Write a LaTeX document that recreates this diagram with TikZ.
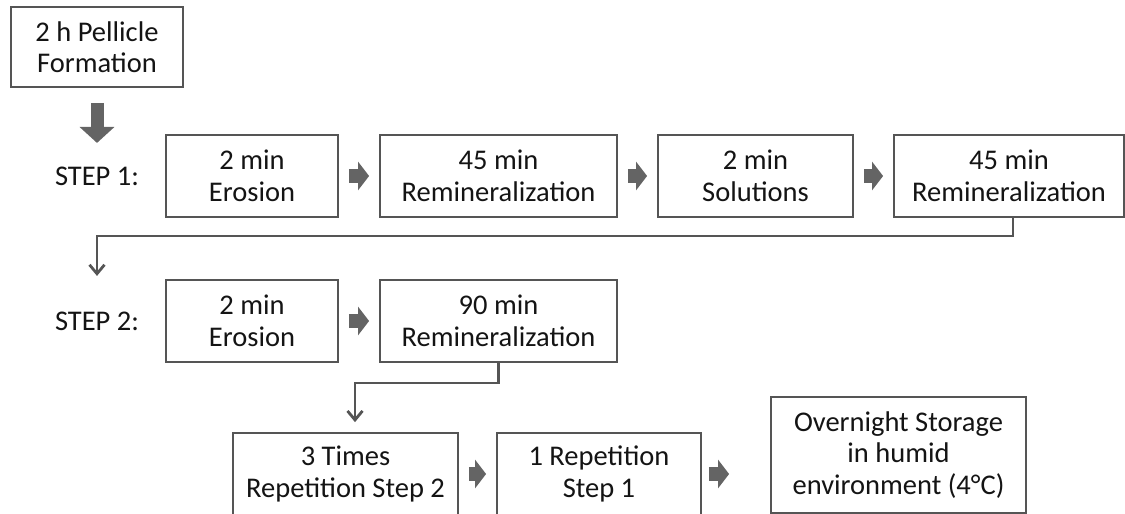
\documentclass[tikz,border=0pt]{standalone}
\usepackage{fontspec}
\setmainfont{Carlito}
\usetikzlibrary{arrows.meta, positioning}
\definecolor{boxgray}{RGB}{85, 85, 85}
\definecolor{arrowgray}{RGB}{100, 100, 100}
\definecolor{textdark}{RGB}{20, 20, 20}

\begin{document}
\begin{tikzpicture}[x=1pt, y=-1pt,
  stepbox/.style={draw=boxgray, line width=1.8pt, fill=white, minimum height=82pt, align=center, inner sep=0pt, font=\fontsize{28.5}{31.5}\selectfont, text=textdark},
  steplabel/.style={inner sep=0pt, font=\fontsize{28.5}{31.5}\selectfont, text=textdark},
  fatarrow/.style={draw=arrowgray, line width=14pt, -{Triangle[length=11pt, width=28pt]}, shorten <=10pt, shorten >=10pt},
  bigarrow/.style={draw=arrowgray, line width=13pt, -{Triangle[length=16pt, width=34pt]}},
  thinarrow/.style={draw=boxgray, line width=2.8pt, -{Straight Barb[length=9pt, width=15pt]}}]
  \useasboundingbox (0,0) rectangle (1125,514);
  \clip (0,0) rectangle (1125,514);

  % Start
  \node[stepbox, minimum width=172pt, minimum height=80pt] (pellicle) at (97, 47) {2 h Pellicle\\Formation};

  % Step 1
  \node[steplabel] (step1) at (97, 176) {STEP 1:};
  \node[stepbox, minimum width=172pt] (ero1) at (252, 176) {2 min\\Erosion};
  \node[stepbox, minimum width=237pt] (remin1) at (498.5, 176) {45 min\\Remineralization};
  \node[stepbox, minimum width=195pt] (sol) at (755.5, 176) {2 min\\Solutions};
  \node[stepbox, minimum width=230pt] (remin2) at (1009, 176) {45 min\\Remineralization};

  % Step 2
  \node[steplabel] (step2) at (97, 321) {STEP 2:};
  \node[stepbox, minimum width=172pt] (ero2) at (252, 321) {2 min\\Erosion};
  \node[stepbox, minimum width=237pt] (remin3) at (498.5, 321) {90 min\\Remineralization};

  % Repetitions and storage
  \node[stepbox, minimum width=225pt] (rep2) at (345.5, 474) {3 Times\\Repetition Step 2};
  \node[stepbox, minimum width=204pt] (rep1) at (599, 474) {1 Repetition\\Step 1};
  \node[stepbox, minimum width=255pt, minimum height=116pt] (store) at (898.5, 455) {Overnight Storage\\in humid\\environment (4°C)};

  % Arrows
  \draw[bigarrow, shorten <=15pt, shorten >=23.5pt] (pellicle.south) -- (step1.north);
  \draw[fatarrow] (ero1) -- (remin1);
  \draw[fatarrow] (remin1) -- (sol);
  \draw[fatarrow] (sol) -- (remin2);
  \draw[fatarrow] (ero2) -- (remin3);
  \draw[fatarrow] (rep2) -- (rep1);
  \draw[fatarrow, shorten <=7pt, shorten >=41pt] (rep1.east) -- (rep1.east -| store.west);

  \draw[thinarrow, shorten >=35.5pt] ([xshift=4pt]remin2.south) -- ++(0,18) -| (step2.north);
  \draw[thinarrow, shorten >=10pt] (remin3.south) -- ++(0,20) -| ([xshift=9.5pt]rep2.north);
\end{tikzpicture}
\end{document}
